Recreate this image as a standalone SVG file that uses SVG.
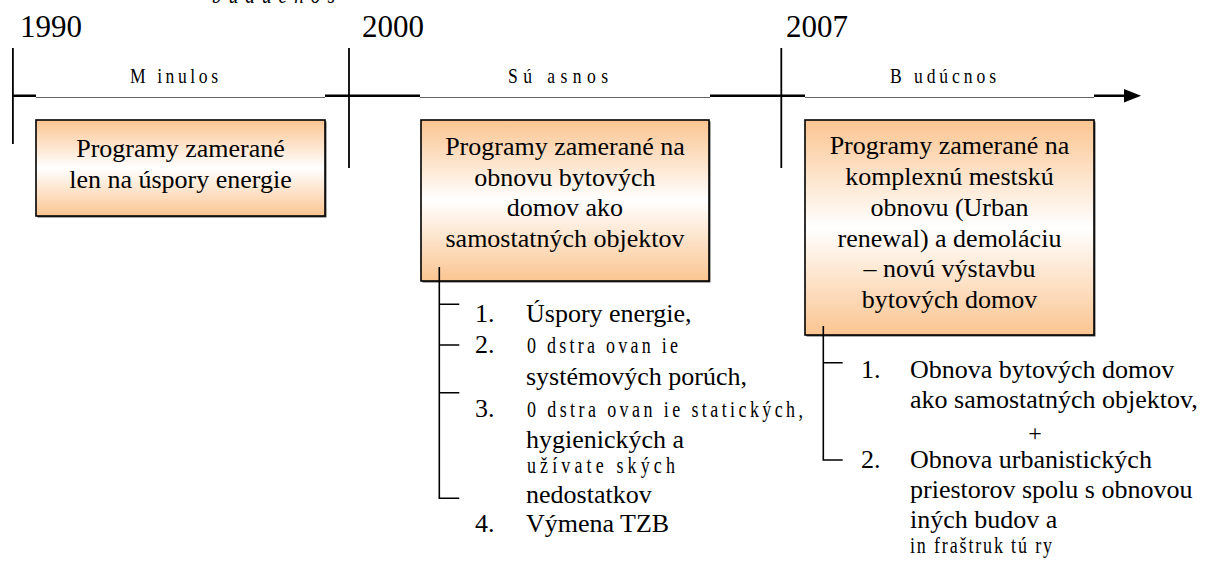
<svg xmlns="http://www.w3.org/2000/svg" width="1210" height="565" viewBox="0 0 1210 565">
<style>
  .t{font-family:"Liberation Serif","Times New Roman",serif;fill:#000}
  .yr{font-size:31px}
  .lbl{font-size:22px}
  .bx{font-size:26px;text-anchor:middle}
  .li{font-size:26px}
  .wd{font-size:24px}
  .box{stroke:#000;stroke-width:1.6;fill:url(#og)}
  .sh{fill:#555}
  .thick{stroke:#000;stroke-width:2.4;fill:none}
  .thin{stroke:#666;stroke-width:1;fill:none}
  .tick{stroke:#000;stroke-width:1.8;fill:none}
  .con{stroke:#000;stroke-width:1.6;fill:none}
</style>
<defs>
  <linearGradient id="og" x1="0" y1="0" x2="0" y2="1">
    <stop offset="0" stop-color="#FBC591"/>
    <stop offset="0.5" stop-color="#FFFFFF"/>
    <stop offset="1" stop-color="#FBC591"/>
  </linearGradient>
</defs>
<rect width="1210" height="565" fill="#fff"/>

<text class="t" transform="translate(212 3) scale(0.8 1)" font-size="24" font-style="italic" textLength="153.7" lengthAdjust="spacing">budúcnos</text>

<g id="timeline">
  <text class="t yr" x="20" y="37">1990</text>
  <text class="t yr" x="362" y="37">2000</text>
  <text class="t yr" x="786" y="37">2007</text>
  <line class="tick" x1="12.9" y1="48" x2="12.9" y2="144"/>
  <line class="tick" x1="349" y1="48" x2="349" y2="168"/>
  <line class="tick" x1="781.3" y1="48" x2="781.3" y2="168"/>
  <path class="thick" d="M12 95.8H36M325 95.8H420M710 95.8H805M1094 95.8H1126"/>
  <polygon points="1124,89 1141,95.8 1124,102.6" fill="#000"/>
  <path class="thin" d="M36 97.5H325M420 97.5H710M805 97.5H1094"/>
  <text class="t lbl" transform="translate(130 82.7) scale(0.8 1)" textLength="110" lengthAdjust="spacing">M inulos</text>
  <text class="t lbl" transform="translate(508 82.7) scale(0.8 1)" textLength="125" lengthAdjust="spacing">Sú asnos</text>
  <text class="t lbl" transform="translate(890 82.7) scale(0.8 1)" textLength="132.5" lengthAdjust="spacing">B udúcnos</text>
</g>

<g id="box1">
  <rect class="sh" x="37.5" y="121.5" width="289" height="96"/>
  <rect class="box" x="36" y="120" width="289" height="96"/>
  <text class="t bx" x="180.5" y="157">Programy zamerané</text>
  <text class="t bx" x="180.5" y="188">len na úspory energie</text>
</g>

<g id="box2">
  <rect class="sh" x="422.5" y="121.5" width="288" height="161"/>
  <rect class="box" x="421" y="120" width="288" height="161"/>
  <text class="t bx" x="565" y="155">Programy zamerané na</text>
  <text class="t bx" x="565" y="185.5">obnovu bytových</text>
  <text class="t bx" x="565" y="216">domov ako</text>
  <text class="t bx" x="565" y="247">samostatných objektov</text>
</g>

<g id="box3">
  <rect class="sh" x="806.5" y="121.5" width="289" height="215"/>
  <rect class="box" x="805" y="120" width="289" height="215"/>
  <text class="t bx" x="949.5" y="154.3">Programy zamerané na</text>
  <text class="t bx" x="949.5" y="185">komplexnú mestskú</text>
  <text class="t bx" x="949.5" y="216">obnovu (Urban</text>
  <text class="t bx" x="949.5" y="246.7">renewal) a demoláciu</text>
  <text class="t bx" x="949.5" y="277.3">– novú výstavbu</text>
  <text class="t bx" x="949.5" y="307.7">bytových domov</text>
</g>

<g id="connectors">
  <path class="con" d="M439.3 267V498.3H459.3M439.3 304.3H459.3M439.3 345H459.3M439.3 392.7H459.3"/>
  <path class="con" d="M823.3 326V460H842.7M823.3 362.7H842.7"/>
</g>

<g id="list2">
  <text class="t li" x="475" y="321.7">1.</text>
  <text class="t li" x="526" y="321.7">Úspory energie,</text>
  <text class="t li" x="475" y="353.3">2.</text>
  <text class="t wd" transform="translate(527 353.3) scale(0.75 1)" textLength="201.3" lengthAdjust="spacing">0 dstra ovan ie</text>
  <text class="t li" x="526" y="385">systémových porúch,</text>
  <text class="t li" x="475" y="416.7">3.</text>
  <text class="t wd" transform="translate(527 416.7) scale(0.75 1)" textLength="368" lengthAdjust="spacing">0 dstra ovan ie statických,</text>
  <text class="t li" x="526" y="448.3">hygienických a</text>
  <text class="t wd" transform="translate(527 473.3) scale(0.75 1)" textLength="197.3" lengthAdjust="spacing">užívate ských</text>
  <text class="t li" x="526" y="503.3">nedostatkov</text>
  <text class="t li" x="475" y="531.7">4.</text>
  <text class="t li" x="526" y="531.7">Výmena TZB</text>
</g>

<g id="list3">
  <text class="t li" x="861" y="378.3">1.</text>
  <text class="t li" x="910" y="378.3">Obnova bytových domov</text>
  <text class="t li" x="910" y="408.3">ako samostatných objektov,</text>
  <text class="t" x="1035" y="441" font-size="24" text-anchor="middle">+</text>
  <text class="t li" x="861" y="468.3">2.</text>
  <text class="t li" x="910" y="468.3">Obnova urbanistických</text>
  <text class="t li" x="910" y="498.3">priestorov spolu s obnovou</text>
  <text class="t li" x="910" y="528.3">iných budov a</text>
  <text class="t wd" transform="translate(910 553.3) scale(0.75 1)" textLength="189.3" lengthAdjust="spacing">in fraštruk tú ry</text>
</g>
</svg>
